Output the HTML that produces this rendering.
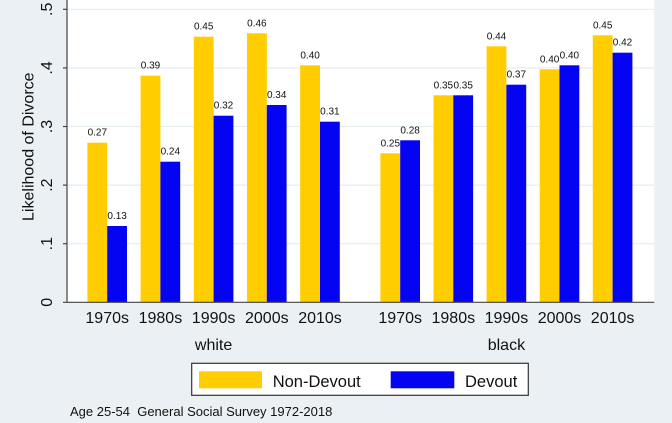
<!DOCTYPE html>
<html><head><meta charset="utf-8"><style>
html,body{margin:0;padding:0;background:#eaf0f3;}
svg{display:block;}
text{font-family:"Liberation Sans",Arial,sans-serif;fill:#111;}
</style></head><body>
<svg width="672" height="423" viewBox="0 0 672 423" xmlns="http://www.w3.org/2000/svg">
<rect x="0" y="0" width="672" height="423" fill="#eaf0f3"/>
<rect x="67" y="0" width="587.3" height="302.3" fill="#ffffff"/>
<g stroke="#e6eef1" stroke-width="1.2">
<line x1="67" y1="9.3" x2="654" y2="9.3"/>
<line x1="67" y1="67.9" x2="654" y2="67.9"/>
<line x1="67" y1="126.5" x2="654" y2="126.5"/>
<line x1="67" y1="185.1" x2="654" y2="185.1"/>
<line x1="67" y1="243.7" x2="654" y2="243.7"/>
</g>
<!-- bars -->
<g fill="#ffcd00">
<rect x="87.4" y="142.7" width="19.8" height="159.6"/>
<rect x="140.6" y="75.7" width="19.8" height="226.6"/>
<rect x="193.8" y="36.7" width="19.8" height="265.6"/>
<rect x="247.0" y="33.3" width="19.8" height="269.0"/>
<rect x="300.2" y="65.3" width="19.8" height="237.0"/>
<rect x="380.4" y="153.3" width="19.8" height="149.0"/>
<rect x="433.5" y="95.3" width="19.8" height="207.0"/>
<rect x="486.6" y="46.3" width="19.8" height="256.0"/>
<rect x="539.7" y="69.3" width="19.8" height="233.0"/>
<rect x="592.8" y="35.3" width="19.8" height="267.0"/>
</g>
<g fill="#0404f2">
<rect x="107.2" y="226.0" width="19.8" height="76.3"/>
<rect x="160.4" y="161.7" width="19.8" height="140.6"/>
<rect x="213.6" y="115.7" width="19.8" height="186.6"/>
<rect x="266.8" y="105.0" width="19.8" height="197.3"/>
<rect x="320.0" y="121.7" width="19.8" height="180.6"/>
<rect x="400.2" y="140.3" width="19.8" height="162.0"/>
<rect x="453.3" y="95.3" width="19.8" height="207.0"/>
<rect x="506.4" y="84.7" width="19.8" height="217.6"/>
<rect x="559.5" y="65.3" width="19.8" height="237.0"/>
<rect x="612.6" y="52.7" width="19.8" height="249.6"/>
</g>
<!-- bar labels -->
<g font-size="10" text-anchor="middle">
<text x="97.3" y="135.7">0.27</text>
<text x="150.5" y="68.7">0.39</text>
<text x="203.7" y="29.7">0.45</text>
<text x="256.9" y="26.3">0.46</text>
<text x="310.1" y="58.3">0.40</text>
<text x="390.3" y="146.3">0.25</text>
<text x="443.4" y="88.3">0.35</text>
<text x="496.5" y="39.3">0.44</text>
<text x="549.6" y="62.3">0.40</text>
<text x="602.7" y="28.3">0.45</text>
<text x="117.1" y="219.0">0.13</text>
<text x="170.3" y="154.7">0.24</text>
<text x="223.5" y="108.7">0.32</text>
<text x="276.7" y="98.0">0.34</text>
<text x="329.9" y="114.7">0.31</text>
<text x="410.1" y="133.3">0.28</text>
<text x="463.2" y="88.3">0.35</text>
<text x="516.3" y="77.7">0.37</text>
<text x="569.4" y="58.3">0.40</text>
<text x="622.5" y="45.7">0.42</text>
</g>
<!-- axes -->
<g stroke="#444" stroke-width="1.2">
<line x1="67" y1="0" x2="67" y2="302.3"/>
<line x1="63" y1="302.3" x2="654.3" y2="302.3"/>
<line x1="63" y1="9.3" x2="67" y2="9.3"/>
<line x1="63" y1="67.9" x2="67" y2="67.9"/>
<line x1="63" y1="126.5" x2="67" y2="126.5"/>
<line x1="63" y1="185.1" x2="67" y2="185.1"/>
<line x1="63" y1="243.7" x2="67" y2="243.7"/>
</g>
<!-- y tick labels -->
<g font-size="16" text-anchor="middle">
<text transform="translate(52,302.3) rotate(-90)">0</text>
<text transform="translate(52,243.7) rotate(-90)">.1</text>
<text transform="translate(52,185.1) rotate(-90)">.2</text>
<text transform="translate(52,126.5) rotate(-90)">.3</text>
<text transform="translate(52,67.9) rotate(-90)">.4</text>
<text transform="translate(52,9.3) rotate(-90)">.5</text>
<text transform="translate(33.5,146.7) rotate(-90)">Likelihood of Divorce</text>
</g>
<!-- x tick labels -->
<g font-size="16" text-anchor="middle">
<text x="107.2" y="323">1970s</text>
<text x="160.4" y="323">1980s</text>
<text x="213.6" y="323">1990s</text>
<text x="266.8" y="323">2000s</text>
<text x="320.0" y="323">2010s</text>
<text x="400.2" y="323">1970s</text>
<text x="453.3" y="323">1980s</text>
<text x="506.4" y="323">1990s</text>
<text x="559.5" y="323">2000s</text>
<text x="612.6" y="323">2010s</text>
<text x="213.6" y="350">white</text>
<text x="506.4" y="350">black</text>
</g>
<!-- legend -->
<rect x="191.7" y="363.3" width="336.6" height="32" fill="#ffffff" stroke="#333" stroke-width="1.2"/>
<rect x="199" y="371.3" width="63" height="17" fill="#ffcd00"/>
<rect x="390.7" y="371.3" width="63.6" height="17" fill="#0404f2"/>
<text x="272.7" y="387" font-size="16.5">Non-Devout</text>
<text x="465" y="387" font-size="16.5">Devout</text>
<!-- note -->
<text x="70" y="416" font-size="13" xml:space="preserve">Age 25-54  General Social Survey 1972-2018</text>
</svg>
</body></html>
